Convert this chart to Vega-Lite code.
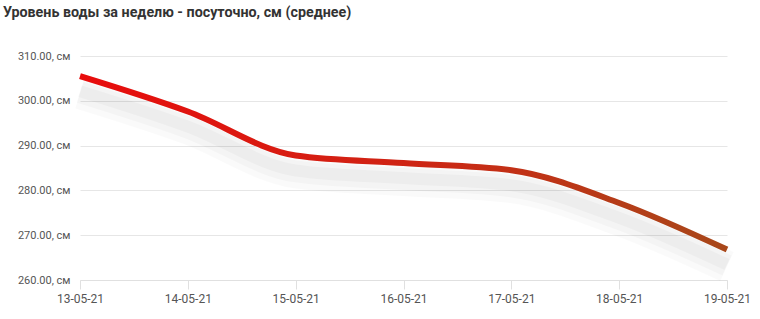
{
  "$schema": "https://vega.github.io/schema/vega-lite/v6.json",
  "width": 647,
  "height": 224,
  "autosize": {"type": "none"},
  "padding": {"left": 80, "top": 56, "right": 33, "bottom": 39},
  "background": "#ffffff",
  "title": {
    "text": "Уровень воды за неделю - посуточно, см (среднее)",
    "anchor": "start",
    "frame": "group",
    "dx": -77,
    "offset": 30,
    "font": "Roboto",
    "fontSize": 14.3,
    "fontWeight": "bold",
    "color": "#333333"
  },
  "config": {
    "view": {"stroke": null},
    "axis": {"labelFont": "Roboto", "titleFont": "Roboto"}
  },
  "data": {
    "values": [
      {"date": "13-05-21", "level": 305.5},
      {"date": "14-05-21", "level": 297.6},
      {"date": "15-05-21", "level": 287.8},
      {"date": "16-05-21", "level": 286.1},
      {"date": "17-05-21", "level": 284.5},
      {"date": "18-05-21", "level": 277.2},
      {"date": "19-05-21", "level": 266.8}
    ]
  },
  "encoding": {
    "x": {
      "field": "date",
      "type": "ordinal",
      "scale": {"type": "point", "padding": 0},
      "axis": {
        "title": null,
        "labelAngle": 0,
        "labelFontSize": 12,
        "labelColor": "#555555",
        "labelPadding": 4,
        "tickSize": 9,
        "tickColor": "#e0e0e0",
        "domainColor": "#e0e0e0",
        "grid": false
      }
    },
    "y": {
      "field": "level",
      "type": "quantitative",
      "scale": {"domain": [260, 310], "nice": false, "zero": false},
      "axis": {
        "title": null,
        "values": [260, 270, 280, 290, 300, 310],
        "labelExpr": "format(datum.value, '.2f') + ', см'",
        "labelFontSize": 11,
        "labelColor": "#555555",
        "labelPadding": 10,
        "ticks": false,
        "domain": false,
        "gridColor": "#e6e6e6"
      }
    }
  },
  "layer": [
    {"mark": {"type": "line", "interpolate": "monotone", "stroke": "#000000", "strokeWidth": 32, "strokeJoin": "round", "opacity": 0.018, "yOffset": 17}},
    {"mark": {"type": "line", "interpolate": "monotone", "stroke": "#000000", "strokeWidth": 22, "strokeJoin": "round", "opacity": 0.022, "yOffset": 16}},
    {"mark": {"type": "line", "interpolate": "monotone", "stroke": "#000000", "strokeWidth": 12, "strokeJoin": "round", "opacity": 0.028, "yOffset": 15}},
    {"mark": {
      "type": "line",
      "interpolate": "monotone",
      "strokeWidth": 6,
      "strokeCap": "butt",
      "strokeJoin": "round",
      "stroke": {
        "gradient": "linear",
        "x1": 0, "y1": 0, "x2": 1, "y2": 0,
        "stops": [
          {"offset": 0, "color": "#e80c0c"},
          {"offset": 0.5, "color": "#cf2414"},
          {"offset": 1, "color": "#a8481a"}
        ]
      }
    }}
  ]
}
